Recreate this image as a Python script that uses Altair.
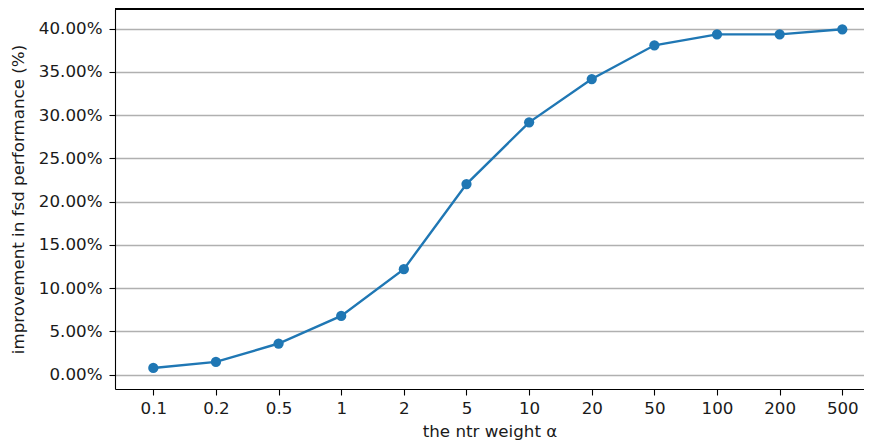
import altair as alt
import pandas as pd

weights = ["0.1", "0.2", "0.5", "1", "2", "5", "10", "20", "50", "100", "200", "500"]
improvement_pct = [0.76, 1.46, 3.59, 6.78, 12.19, 22.03, 29.17, 34.18, 38.08, 39.35, 39.35, 39.93]
y_ticks_pct = [0, 5, 10, 15, 20, 25, 30, 35, 40]

df = pd.DataFrame({
    "w": weights,
    "v": [p / 100 for p in improvement_pct],
})

FONT = "DejaVu Sans"
BLUE = "#1f77b4"

x_enc = alt.X(
    "w:O",
    sort=weights,
    title="the ntr weight α",
    scale=alt.Scale(type="point", padding=0.4789, align=0.6383),
    axis=alt.Axis(labelAngle=0, grid=False, tickSize=6, labelPadding=5, titlePadding=7),
)
y_enc = alt.Y(
    "v:Q",
    title="improvement in fsd performance (%)",
    scale=alt.Scale(domain=[-0.0167, 0.4228], nice=False, zero=False),
    axis=alt.Axis(
        values=[t / 100 for t in y_ticks_pct],
        format=".2%",
        grid=True,
        tickSize=6,
        labelPadding=7,
        titlePadding=11,
    ),
)

line = alt.Chart(df).mark_line(color=BLUE, strokeWidth=2.4).encode(x=x_enc, y=y_enc)
pts = alt.Chart(df).mark_point(filled=True, color=BLUE, size=105, opacity=1).encode(x=x_enc, y=y_enc)
top = alt.Chart(df).mark_rule(color="black", strokeWidth=1.1).encode(y=alt.value(0))

chart = (
    alt.layer(line, pts, top)
    .properties(
        width=749,
        height=380,
        autosize=alt.AutoSizeParams(type="none"),
        padding={"left": 107, "top": 1, "right": 0, "bottom": 51},
    )
    .configure_view(stroke=None)
    .configure_axis(
        labelFont=FONT,
        titleFont=FONT,
        labelFontSize=16.7,
        titleFontSize=16.7,
        labelColor="#1a1a1a",
        titleColor="#1a1a1a",
        titleFontWeight="normal",
        domainColor="black",
        domainWidth=1.1,
        tickColor="black",
        tickWidth=1.1,
        gridColor="#b0b0b0",
        gridWidth=1.3,
    )
)

chart.save("out.html", embed_options={"renderer": "svg", "actions": False})
